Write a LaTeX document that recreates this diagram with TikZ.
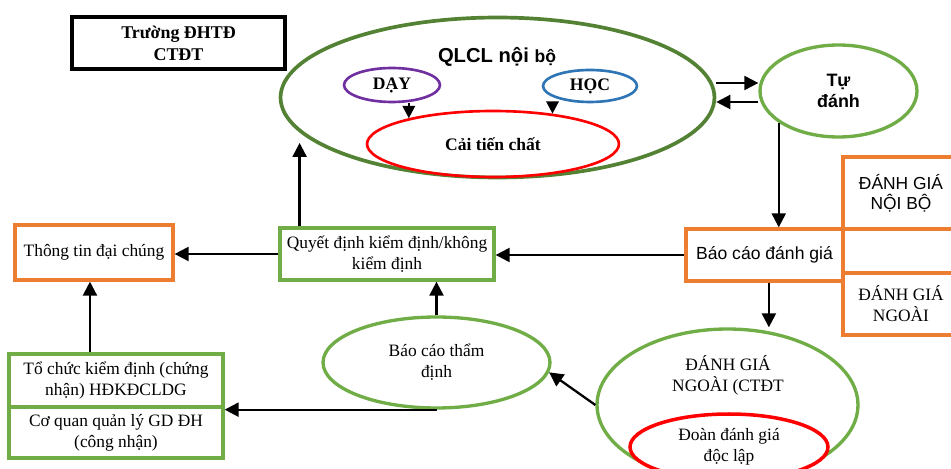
\documentclass[tikz,border=0pt]{standalone}
\usepackage{fontspec}
\setmainfont{Liberation Serif}
\setsansfont{Liberation Sans}
\usetikzlibrary{arrows.meta,shapes.geometric}
\definecolor{qgreen}{RGB}{84,130,53}
\definecolor{lgreen}{RGB}{112,173,71}
\definecolor{orng}{RGB}{237,125,49}
\definecolor{purp}{RGB}{112,48,160}
\definecolor{blu}{RGB}{46,117,182}

\begin{document}
\begin{tikzpicture}[x=0.02cm, y=-0.02cm, >={Triangle[length=8pt,width=8pt]},
  font=\fontsize{9.9}{12}\selectfont,
  ell/.style={ellipse, draw, line width=1.9pt, inner sep=0pt, align=center},
  box/.style={rectangle, draw, line width=1.9pt, inner sep=0pt, align=center},
  txt/.style={inner sep=0pt, align=center},
  arr/.style={->, line width=1.3pt}]
\useasboundingbox (0,0) rectangle (951,469);
\clip (0,0) rectangle (951,469);

\node[box, draw=black, line width=2.4pt, minimum width=4.26cm, minimum height=1.04cm,
  font=\fontsize{10.2}{12.5}\selectfont\bfseries] (truong) at (178.5,43) {Trường ĐHTĐ\\CTĐT};

\node[ell, draw=qgreen, line width=2.1pt, minimum width=8.68cm, minimum height=3.2cm] (qlcl) at (497.5,97.5) {};
\node[txt, font=\sffamily\bfseries\fontsize{11.5}{13}\selectfont] (qlcltxt) at (497,57) {QLCL nội {\fontsize{10}{12}\selectfont bộ}};
\node[ell, draw=purp, line width=1.5pt, minimum width=1.92cm, minimum height=0.68cm, font=\bfseries] (day) at (392,85) {DẠY};
\node[ell, draw=blu, line width=1.5pt, minimum width=1.88cm, minimum height=0.64cm, font=\bfseries] (hoc) at (590,86) {HỌC};
\node[ell, draw=red, line width=1.5pt, minimum width=5.04cm, minimum height=1.32cm, font=\bfseries] (ct) at (493,144) {Cải tiến chất};

\node[ell, draw=lgreen, minimum width=3.14cm, minimum height=1.84cm, font=\sffamily\bfseries\fontsize{10.2}{11.5}\selectfont] (tu) at (838.5,91) {Tự\\đánh};

\node[box, draw=orng, minimum width=3.14cm, minimum height=1.04cm, font=\sffamily] (bc) at (764.5,255) {Báo cáo đánh giá};
\node[box, draw=orng, minimum width=2.32cm, minimum height=1.44cm, font=\sffamily\fontsize{9.9}{11.5}\selectfont] (dgnb) at (901,193) {ĐÁNH GIÁ\\NỘI BỘ};
\node[box, draw=orng, minimum width=2.32cm, minimum height=0.88cm] (dgm) at (901,251) {};
\node[box, draw=orng, minimum width=2.32cm, minimum height=1.24cm] (dgng) at (901,304) {ĐÁNH GIÁ\\NGOÀI};

\node[box, draw=lgreen, minimum width=4.28cm, minimum height=1.04cm] (qd) at (387,254) {Quyết định kiểm định/không\\kiểm định};
\node[box, draw=orng, minimum width=3.16cm, minimum height=1.1cm] (tt) at (94,252.5) {Thông tin đại chúng};
\node[box, draw=lgreen, minimum width=4.28cm, minimum height=1.06cm] (tc) at (116,380.5) {Tổ chức kiểm định (chứng\\nhận) HĐKĐCLDG};
\node[box, draw=lgreen, minimum width=4.28cm, minimum height=1.02cm] (cq) at (116,432.5) {Cơ quan quản lý GD ĐH\\(công nhận)};

\node[ell, draw=lgreen, minimum width=4.54cm, minimum height=1.82cm] (btd) at (436.5,362.5) {Báo cáo thẩm\\định};

\node[ell, draw=lgreen, minimum width=5.22cm, minimum height=3.04cm] (dgn) at (727.5,405) {};
\node[txt] (dgntxt) at (728,375) {ĐÁNH GIÁ\\NGOÀI (CTĐT};
\node[ell, draw=red, fill=white, line width=2pt, minimum width=3.96cm, minimum height=1.32cm] (doan) at (729,447) {Đoàn đánh giá\\độc lập};

\draw[arr, >={Triangle[length=7pt,width=7pt]}] (day.south -| ct.163) -- (ct.163);
\draw[arr, >={Triangle[length=7pt,width=7pt]}] (hoc.south -| ct.27) -- (ct.27);
\draw[arr] (qlcl.east |- 0,83) -- (tu.west |- 0,83);
\draw[arr] (tu.west |- 0,102) -- (qlcl.east |- 0,102);
\draw[arr] (tu.208) -- (tu.208 |- bc.north);
\draw[arr] (bc.west) -- (bc.west -| qd.east);
\draw[arr, shorten >=6pt] (qd.north -| qlcl.190) -- (qlcl.190);
\draw[arr] (qd.west) -- (qd.west -| tt.east);
\draw[arr] ([xshift=-2.3pt]tc.north -| tt.south) -- ([xshift=-2.3pt]tt.south);
\draw[arr] (btd.north) -- (btd.north |- qd.south);
\draw[arr] (btd.south) -- (btd.south -| tc.south east);
\draw[arr] ([xshift=2.5pt]bc.south) -- ([xshift=2.5pt]bc.south |- dgn.north);
\draw[arr] (dgn.west) -- (btd.-5);
\end{tikzpicture}
\end{document}
